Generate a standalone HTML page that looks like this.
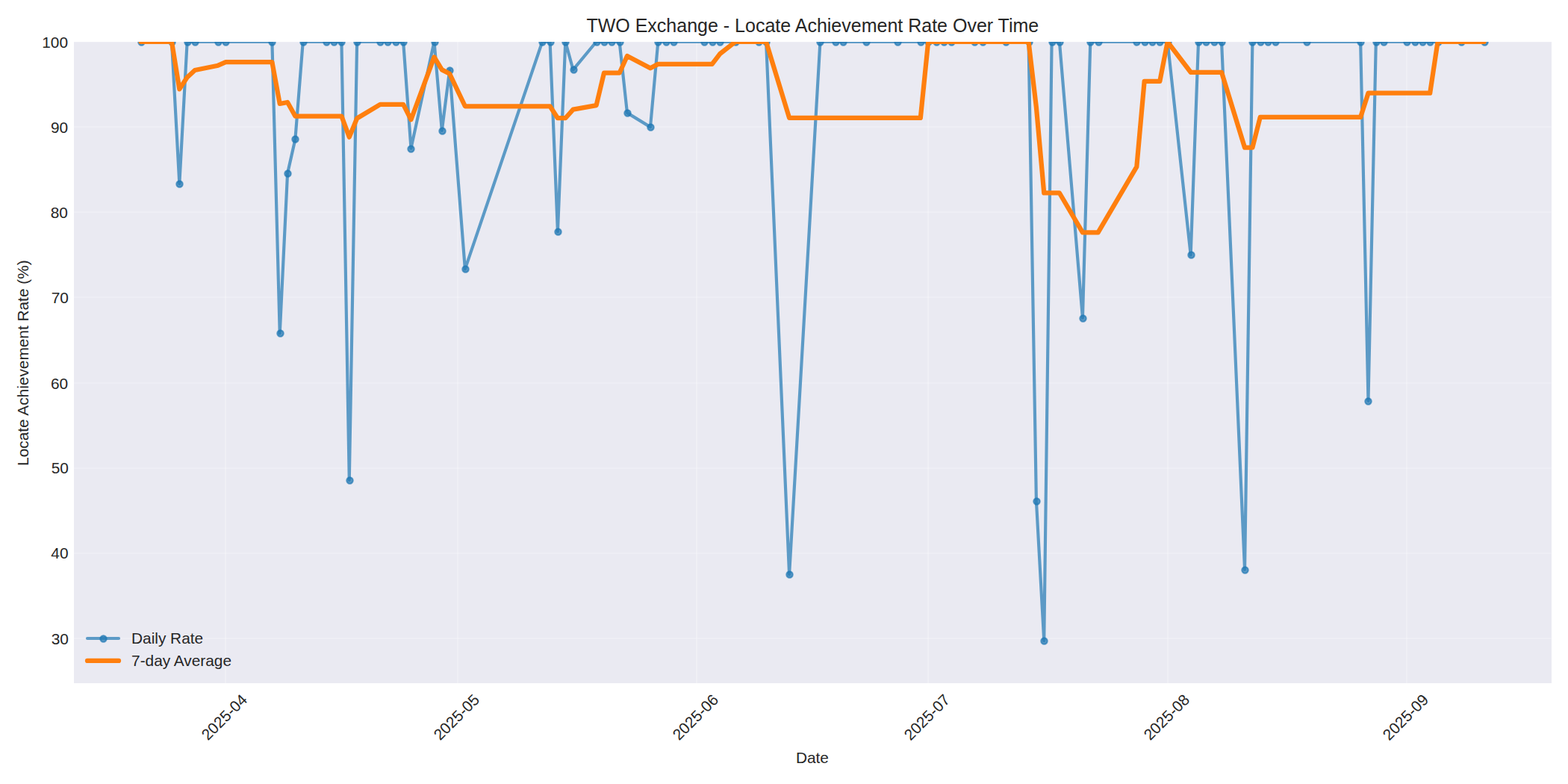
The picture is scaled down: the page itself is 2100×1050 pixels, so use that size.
<!DOCTYPE html>
<html lang="en">
<head>
<meta charset="utf-8">
<title>TWO Exchange - Locate Achievement Rate Over Time</title>
<style>
html,body{margin:0;padding:0;background:#ffffff;}
body{width:2100px;height:1050px;overflow:hidden;font-family:"Liberation Sans",sans-serif;}
#chart{display:block;position:absolute;left:0;top:0;}
.sr-only{position:absolute;left:0;top:0;width:1px;height:1px;margin:-1px;padding:0;overflow:hidden;clip:rect(0 0 0 0);clip-path:inset(50%);white-space:nowrap;border:0;}
#chart text{font-family:"Liberation Sans",sans-serif;fill:#262626;}
</style>
</head>
<body>
<svg id="chart" width="2100" height="1050" viewBox="0 0 1008 504" role="img" aria-labelledby="chart-title chart-desc">
<title id="chart-title">TWO Exchange - Locate Achievement Rate Over Time</title>
<desc id="chart-desc">Line chart of Locate Achievement Rate (%) by Date from 2025-04 to 2025-09 with series Daily Rate and 7-day Average.</desc>
<defs>
<style type="text/css">*{stroke-linejoin: round; stroke-linecap: butt}</style>
</defs>
<g id="figure_1">
<g id="patch_1">
<path d="M 0 504 L 1008 504 L 1008 0 L 0 0 z
" style="fill: #ffffff"/>
</g>
<g id="axes_1">
<g id="patch_2">
<path d="M 47.52 439.2 L 997.44 439.2 L 997.44 26.88 L 47.52 26.88 z" style="fill: #eaeaf2"/>
</g>
<g id="matplotlib.axis_1">
<g id="xtick_1">
<g id="line2d_1">
<path d="M 144.96000 439.2 L 144.96000 26.88 " clip-path="url(#p65f000b182)" style="fill: none; stroke: #ffffff; stroke-opacity: 0.3; stroke-width: 0.8; stroke-linecap: round"/>
</g>
<g id="line2d_2"/>
<g id="text_1">
<!-- 2025-04 -->
<text x="20.89" y="0" font-size="10" text-anchor="middle" transform="translate(131.85426 478.24412) rotate(-45)">2025-04</text>
</g>
</g>
<g id="xtick_2">
<g id="line2d_3">
<path d="M 294.24000 439.2 L 294.24000 26.88 " clip-path="url(#p65f000b182)" style="fill: none; stroke: #ffffff; stroke-opacity: 0.3; stroke-width: 0.8; stroke-linecap: round"/>
</g>
<g id="line2d_4"/>
<g id="text_2">
<!-- 2025-05 -->
<text x="20.89" y="0" font-size="10" text-anchor="middle" transform="translate(281.12259 478.23692) rotate(-45)">2025-05</text>
</g>
</g>
<g id="xtick_3">
<g id="line2d_5">
<path d="M 447.84000 439.2 L 447.84000 26.88 " clip-path="url(#p65f000b182)" style="fill: none; stroke: #ffffff; stroke-opacity: 0.3; stroke-width: 0.8; stroke-linecap: round"/>
</g>
<g id="line2d_6"/>
<g id="text_3">
<!-- 2025-06 -->
<text x="20.89" y="0" font-size="10" text-anchor="middle" transform="translate(434.72515 478.24892) rotate(-45)">2025-06</text>
</g>
</g>
<g id="xtick_4">
<g id="line2d_7">
<path d="M 596.64000 439.2 L 596.64000 26.88 " clip-path="url(#p65f000b182)" style="fill: none; stroke: #ffffff; stroke-opacity: 0.3; stroke-width: 0.8; stroke-linecap: round"/>
</g>
<g id="line2d_8"/>
<g id="text_4">
<!-- 2025-07 -->
<text x="20.89" y="0" font-size="10" text-anchor="middle" transform="translate(583.55621 478.26284) rotate(-45)">2025-07</text>
</g>
</g>
<g id="xtick_5">
<g id="line2d_9">
<path d="M 750.72000 439.2 L 750.72000 26.88 " clip-path="url(#p65f000b182)" style="fill: none; stroke: #ffffff; stroke-opacity: 0.3; stroke-width: 0.8; stroke-linecap: round"/>
</g>
<g id="line2d_10"/>
<g id="text_5">
<!-- 2025-08 -->
<text x="20.89" y="0" font-size="10" text-anchor="middle" transform="translate(737.61476 478.25084) rotate(-45)">2025-08</text>
</g>
</g>
<g id="xtick_6">
<g id="line2d_11">
<path d="M 904.32000 439.2 L 904.32000 26.88 " clip-path="url(#p65f000b182)" style="fill: none; stroke: #ffffff; stroke-opacity: 0.3; stroke-width: 0.8; stroke-linecap: round"/>
</g>
<g id="line2d_12"/>
<g id="text_6">
<!-- 2025-09 -->
<text x="20.89" y="0" font-size="10" text-anchor="middle" transform="translate(891.21875 478.26092) rotate(-45)">2025-09</text>
</g>
</g>
<g id="text_7">
<!-- Date -->
<text x="522.18" y="490.42" font-size="10" text-anchor="middle">Date</text>
</g>
</g>
<g id="matplotlib.axis_2">
<g id="ytick_1">
<g id="line2d_13">
<path d="M 47.52 410.40000 L 997.44 410.40000 " clip-path="url(#p65f000b182)" style="fill: none; stroke: #ffffff; stroke-opacity: 0.3; stroke-width: 0.8; stroke-linecap: round"/>
</g>
<g id="line2d_14"/>
<g id="text_8">
<!-- 30 -->
<text x="44.10" y="414.01" font-size="10" text-anchor="end">30</text>
</g>
</g>
<g id="ytick_2">
<g id="line2d_15">
<path d="M 47.52 355.68000 L 997.44 355.68000 " clip-path="url(#p65f000b182)" style="fill: none; stroke: #ffffff; stroke-opacity: 0.3; stroke-width: 0.8; stroke-linecap: round"/>
</g>
<g id="line2d_16"/>
<g id="text_9">
<!-- 40 -->
<text x="43.93" y="359.27" font-size="10" text-anchor="end">40</text>
</g>
</g>
<g id="ytick_3">
<g id="line2d_17">
<path d="M 47.52 300.96000 L 997.44 300.96000 " clip-path="url(#p65f000b182)" style="fill: none; stroke: #ffffff; stroke-opacity: 0.3; stroke-width: 0.8; stroke-linecap: round"/>
</g>
<g id="line2d_18"/>
<g id="text_10">
<!-- 50 -->
<text x="44.10" y="304.54" font-size="10" text-anchor="end">50</text>
</g>
</g>
<g id="ytick_4">
<g id="line2d_19">
<path d="M 47.52 246.24000 L 997.44 246.24000 " clip-path="url(#p65f000b182)" style="fill: none; stroke: #ffffff; stroke-opacity: 0.3; stroke-width: 0.8; stroke-linecap: round"/>
</g>
<g id="line2d_20"/>
<g id="text_11">
<!-- 60 -->
<text x="43.71" y="249.87" font-size="10" text-anchor="end">60</text>
</g>
</g>
<g id="ytick_5">
<g id="line2d_21">
<path d="M 47.52 191.04000 L 997.44 191.04000 " clip-path="url(#p65f000b182)" style="fill: none; stroke: #ffffff; stroke-opacity: 0.3; stroke-width: 0.8; stroke-linecap: round"/>
</g>
<g id="line2d_22"/>
<g id="text_12">
<!-- 70 -->
<text x="44.13" y="194.68" font-size="10" text-anchor="end">70</text>
</g>
</g>
<g id="ytick_6">
<g id="line2d_23">
<path d="M 47.52 136.32000 L 997.44 136.32000 " clip-path="url(#p65f000b182)" style="fill: none; stroke: #ffffff; stroke-opacity: 0.3; stroke-width: 0.8; stroke-linecap: round"/>
</g>
<g id="line2d_24"/>
<g id="text_13">
<!-- 80 -->
<text x="43.63" y="139.92" font-size="10" text-anchor="end">80</text>
</g>
</g>
<g id="ytick_7">
<g id="line2d_25">
<path d="M 47.52 81.60000 L 997.44 81.60000 " clip-path="url(#p65f000b182)" style="fill: none; stroke: #ffffff; stroke-opacity: 0.3; stroke-width: 0.8; stroke-linecap: round"/>
</g>
<g id="line2d_26"/>
<g id="text_14">
<!-- 90 -->
<text x="43.72" y="85.25" font-size="10" text-anchor="end">90</text>
</g>
</g>
<g id="ytick_8">
<g id="line2d_27">
<path d="M 47.52 26.88000 L 997.44 26.88000 " clip-path="url(#p65f000b182)" style="fill: none; stroke: #ffffff; stroke-opacity: 0.3; stroke-width: 0.8; stroke-linecap: round"/>
</g>
<g id="line2d_28"/>
<g id="text_15">
<!-- 100 -->
<text x="43.68" y="30.56" font-size="10" text-anchor="end">100</text>
</g>
</g>
<g id="text_16">
<!-- Locate Achievement Rate (%) -->
<text x="74.32" y="0" font-size="10" text-anchor="middle" transform="translate(18.11097 307.65216) rotate(-90)">Locate Achievement Rate (%)</text>
</g>
</g>
<g id="line2d_29">
<path d="M 90.544091 26.88 L 110.394248 26.88 L 115.356787 118.183837 L 120.319326 26.88 L 125.281865 26.88 L 140.169483 26.88 L 145.132022 26.88 L 174.907257 26.88 L 179.869796 214.286508 L 184.832335 111.516964 L 189.794875 89.494919 L 194.757414 26.88 L 209.645031 26.88 L 214.607571 26.88 L 219.57011 26.88 L 224.532649 308.619746 L 229.495188 26.88 L 244.382806 26.88 L 249.345345 26.88 L 254.307884 26.88 L 259.270423 26.88 L 264.232962 95.356508 L 279.12058 26.88 L 284.083119 83.934627 L 289.045658 45.138576 L 298.970737 172.965044 L 348.596129 26.88 L 353.558668 26.88 L 358.521207 148.932529 L 363.483746 26.88 L 368.446285 44.848236 L 383.333903 26.88 L 388.296442 26.88 L 393.258981 26.88 L 398.22152 26.88 L 403.18406 72.52918 L 418.071677 81.661207 L 423.034216 26.88 L 427.996755 26.88 L 432.959295 26.88 L 452.809451 26.88 L 457.771991 26.88 L 462.73453 26.88 L 472.659608 26.88 L 487.547226 26.88 L 492.509765 26.88 L 507.397382 369.262542 L 527.247539 26.88 L 537.172618 26.88 L 542.135157 26.88 L 557.022774 26.88 L 576.872931 26.88 L 591.760549 26.88 L 596.723088 26.88 L 601.685627 26.88 L 606.648166 26.88 L 611.610705 26.88 L 626.498323 26.88 L 631.460862 26.88 L 646.34848 26.88 L 661.236097 26.88 L 666.198636 322.150704 L 671.161176 411.937102 L 676.123715 26.88 L 681.086254 26.88 L 695.973871 204.37111 L 700.936411 26.88 L 705.89895 26.88 L 730.711646 26.88 L 735.674185 26.88 L 740.636724 26.88 L 745.599263 26.88 L 750.561803 26.88 L 765.44942 163.833017 L 770.411959 26.88 L 775.374498 26.88 L 780.337038 26.88 L 785.299577 26.88 L 800.187194 366.140013 L 805.149734 26.88 L 810.112273 26.88 L 815.074812 26.88 L 820.037351 26.88 L 839.887508 26.88 L 874.625282 26.88 L 879.587821 257.673224 L 884.550361 26.88 L 889.5129 26.88 L 904.400517 26.88 L 909.363056 26.88 L 914.325596 26.88 L 919.288135 26.88 L 924.250674 26.88 L 939.138292 26.88 L 954.025909 26.88 " clip-path="url(#p65f000b182)" style="fill: none; stroke: #1f77b4; stroke-opacity: 0.7; stroke-width: 2; stroke-linecap: round"/>
<defs>
<path id="md5e79b1b09" d="M 0 2 C 0.530406 2 1.03916 1.789267 1.414214 1.414214 C 1.789267 1.03916 2 0.530406 2 0 C 2 -0.530406 1.789267 -1.03916 1.414214 -1.414214 C 1.03916 -1.789267 0.530406 -2 0 -2 C -0.530406 -2 -1.03916 -1.789267 -1.414214 -1.414214 C -1.789267 -1.03916 -2 -0.530406 -2 0 C -2 0.530406 -1.789267 1.03916 -1.414214 1.414214 C -1.03916 1.789267 -0.530406 2 0 2 z
" style="stroke: #1f77b4; stroke-opacity: 0.7"/>
</defs>
<g clip-path="url(#p65f000b182)">
<use href="#md5e79b1b09" x="90.96000" y="27.12000" style="fill: #1f77b4; fill-opacity: 0.7; stroke: #1f77b4; stroke-opacity: 0.7"/>
<use href="#md5e79b1b09" x="110.64000" y="27.12000" style="fill: #1f77b4; fill-opacity: 0.7; stroke: #1f77b4; stroke-opacity: 0.7"/>
<use href="#md5e79b1b09" x="115.44000" y="118.32000" style="fill: #1f77b4; fill-opacity: 0.7; stroke: #1f77b4; stroke-opacity: 0.7"/>
<use href="#md5e79b1b09" x="120.72000" y="27.12000" style="fill: #1f77b4; fill-opacity: 0.7; stroke: #1f77b4; stroke-opacity: 0.7"/>
<use href="#md5e79b1b09" x="125.52000" y="27.12000" style="fill: #1f77b4; fill-opacity: 0.7; stroke: #1f77b4; stroke-opacity: 0.7"/>
<use href="#md5e79b1b09" x="140.40000" y="27.12000" style="fill: #1f77b4; fill-opacity: 0.7; stroke: #1f77b4; stroke-opacity: 0.7"/>
<use href="#md5e79b1b09" x="145.20000" y="27.12000" style="fill: #1f77b4; fill-opacity: 0.7; stroke: #1f77b4; stroke-opacity: 0.7"/>
<use href="#md5e79b1b09" x="174.96000" y="27.12000" style="fill: #1f77b4; fill-opacity: 0.7; stroke: #1f77b4; stroke-opacity: 0.7"/>
<use href="#md5e79b1b09" x="180.24000" y="214.32000" style="fill: #1f77b4; fill-opacity: 0.7; stroke: #1f77b4; stroke-opacity: 0.7"/>
<use href="#md5e79b1b09" x="185.04000" y="111.60000" style="fill: #1f77b4; fill-opacity: 0.7; stroke: #1f77b4; stroke-opacity: 0.7"/>
<use href="#md5e79b1b09" x="189.84000" y="89.52000" style="fill: #1f77b4; fill-opacity: 0.7; stroke: #1f77b4; stroke-opacity: 0.7"/>
<use href="#md5e79b1b09" x="195.12000" y="27.12000" style="fill: #1f77b4; fill-opacity: 0.7; stroke: #1f77b4; stroke-opacity: 0.7"/>
<use href="#md5e79b1b09" x="210.00000" y="27.12000" style="fill: #1f77b4; fill-opacity: 0.7; stroke: #1f77b4; stroke-opacity: 0.7"/>
<use href="#md5e79b1b09" x="214.80000" y="27.12000" style="fill: #1f77b4; fill-opacity: 0.7; stroke: #1f77b4; stroke-opacity: 0.7"/>
<use href="#md5e79b1b09" x="219.60000" y="27.12000" style="fill: #1f77b4; fill-opacity: 0.7; stroke: #1f77b4; stroke-opacity: 0.7"/>
<use href="#md5e79b1b09" x="224.88000" y="308.88000" style="fill: #1f77b4; fill-opacity: 0.7; stroke: #1f77b4; stroke-opacity: 0.7"/>
<use href="#md5e79b1b09" x="229.68000" y="27.12000" style="fill: #1f77b4; fill-opacity: 0.7; stroke: #1f77b4; stroke-opacity: 0.7"/>
<use href="#md5e79b1b09" x="244.56000" y="27.12000" style="fill: #1f77b4; fill-opacity: 0.7; stroke: #1f77b4; stroke-opacity: 0.7"/>
<use href="#md5e79b1b09" x="249.36000" y="27.12000" style="fill: #1f77b4; fill-opacity: 0.7; stroke: #1f77b4; stroke-opacity: 0.7"/>
<use href="#md5e79b1b09" x="254.64000" y="27.12000" style="fill: #1f77b4; fill-opacity: 0.7; stroke: #1f77b4; stroke-opacity: 0.7"/>
<use href="#md5e79b1b09" x="259.44000" y="27.12000" style="fill: #1f77b4; fill-opacity: 0.7; stroke: #1f77b4; stroke-opacity: 0.7"/>
<use href="#md5e79b1b09" x="264.24000" y="95.76000" style="fill: #1f77b4; fill-opacity: 0.7; stroke: #1f77b4; stroke-opacity: 0.7"/>
<use href="#md5e79b1b09" x="279.60000" y="27.12000" style="fill: #1f77b4; fill-opacity: 0.7; stroke: #1f77b4; stroke-opacity: 0.7"/>
<use href="#md5e79b1b09" x="284.40000" y="84.24000" style="fill: #1f77b4; fill-opacity: 0.7; stroke: #1f77b4; stroke-opacity: 0.7"/>
<use href="#md5e79b1b09" x="289.20000" y="45.36000" style="fill: #1f77b4; fill-opacity: 0.7; stroke: #1f77b4; stroke-opacity: 0.7"/>
<use href="#md5e79b1b09" x="299.28000" y="173.04000" style="fill: #1f77b4; fill-opacity: 0.7; stroke: #1f77b4; stroke-opacity: 0.7"/>
<use href="#md5e79b1b09" x="348.72000" y="27.12000" style="fill: #1f77b4; fill-opacity: 0.7; stroke: #1f77b4; stroke-opacity: 0.7"/>
<use href="#md5e79b1b09" x="354.00000" y="27.12000" style="fill: #1f77b4; fill-opacity: 0.7; stroke: #1f77b4; stroke-opacity: 0.7"/>
<use href="#md5e79b1b09" x="358.80000" y="149.04000" style="fill: #1f77b4; fill-opacity: 0.7; stroke: #1f77b4; stroke-opacity: 0.7"/>
<use href="#md5e79b1b09" x="363.60000" y="27.12000" style="fill: #1f77b4; fill-opacity: 0.7; stroke: #1f77b4; stroke-opacity: 0.7"/>
<use href="#md5e79b1b09" x="368.88000" y="44.88000" style="fill: #1f77b4; fill-opacity: 0.7; stroke: #1f77b4; stroke-opacity: 0.7"/>
<use href="#md5e79b1b09" x="383.76000" y="27.12000" style="fill: #1f77b4; fill-opacity: 0.7; stroke: #1f77b4; stroke-opacity: 0.7"/>
<use href="#md5e79b1b09" x="388.56000" y="27.12000" style="fill: #1f77b4; fill-opacity: 0.7; stroke: #1f77b4; stroke-opacity: 0.7"/>
<use href="#md5e79b1b09" x="393.36000" y="27.12000" style="fill: #1f77b4; fill-opacity: 0.7; stroke: #1f77b4; stroke-opacity: 0.7"/>
<use href="#md5e79b1b09" x="398.64000" y="27.12000" style="fill: #1f77b4; fill-opacity: 0.7; stroke: #1f77b4; stroke-opacity: 0.7"/>
<use href="#md5e79b1b09" x="403.44000" y="72.72000" style="fill: #1f77b4; fill-opacity: 0.7; stroke: #1f77b4; stroke-opacity: 0.7"/>
<use href="#md5e79b1b09" x="418.32000" y="81.84000" style="fill: #1f77b4; fill-opacity: 0.7; stroke: #1f77b4; stroke-opacity: 0.7"/>
<use href="#md5e79b1b09" x="423.12000" y="27.12000" style="fill: #1f77b4; fill-opacity: 0.7; stroke: #1f77b4; stroke-opacity: 0.7"/>
<use href="#md5e79b1b09" x="428.40000" y="27.12000" style="fill: #1f77b4; fill-opacity: 0.7; stroke: #1f77b4; stroke-opacity: 0.7"/>
<use href="#md5e79b1b09" x="433.20000" y="27.12000" style="fill: #1f77b4; fill-opacity: 0.7; stroke: #1f77b4; stroke-opacity: 0.7"/>
<use href="#md5e79b1b09" x="452.88000" y="27.12000" style="fill: #1f77b4; fill-opacity: 0.7; stroke: #1f77b4; stroke-opacity: 0.7"/>
<use href="#md5e79b1b09" x="458.16000" y="27.12000" style="fill: #1f77b4; fill-opacity: 0.7; stroke: #1f77b4; stroke-opacity: 0.7"/>
<use href="#md5e79b1b09" x="462.96000" y="27.12000" style="fill: #1f77b4; fill-opacity: 0.7; stroke: #1f77b4; stroke-opacity: 0.7"/>
<use href="#md5e79b1b09" x="473.04000" y="27.12000" style="fill: #1f77b4; fill-opacity: 0.7; stroke: #1f77b4; stroke-opacity: 0.7"/>
<use href="#md5e79b1b09" x="487.92000" y="27.12000" style="fill: #1f77b4; fill-opacity: 0.7; stroke: #1f77b4; stroke-opacity: 0.7"/>
<use href="#md5e79b1b09" x="492.72000" y="27.12000" style="fill: #1f77b4; fill-opacity: 0.7; stroke: #1f77b4; stroke-opacity: 0.7"/>
<use href="#md5e79b1b09" x="507.60000" y="369.36000" style="fill: #1f77b4; fill-opacity: 0.7; stroke: #1f77b4; stroke-opacity: 0.7"/>
<use href="#md5e79b1b09" x="527.28000" y="27.12000" style="fill: #1f77b4; fill-opacity: 0.7; stroke: #1f77b4; stroke-opacity: 0.7"/>
<use href="#md5e79b1b09" x="537.36000" y="27.12000" style="fill: #1f77b4; fill-opacity: 0.7; stroke: #1f77b4; stroke-opacity: 0.7"/>
<use href="#md5e79b1b09" x="542.16000" y="27.12000" style="fill: #1f77b4; fill-opacity: 0.7; stroke: #1f77b4; stroke-opacity: 0.7"/>
<use href="#md5e79b1b09" x="557.04000" y="27.12000" style="fill: #1f77b4; fill-opacity: 0.7; stroke: #1f77b4; stroke-opacity: 0.7"/>
<use href="#md5e79b1b09" x="577.20000" y="27.12000" style="fill: #1f77b4; fill-opacity: 0.7; stroke: #1f77b4; stroke-opacity: 0.7"/>
<use href="#md5e79b1b09" x="592.08000" y="27.12000" style="fill: #1f77b4; fill-opacity: 0.7; stroke: #1f77b4; stroke-opacity: 0.7"/>
<use href="#md5e79b1b09" x="596.88000" y="27.12000" style="fill: #1f77b4; fill-opacity: 0.7; stroke: #1f77b4; stroke-opacity: 0.7"/>
<use href="#md5e79b1b09" x="602.16000" y="27.12000" style="fill: #1f77b4; fill-opacity: 0.7; stroke: #1f77b4; stroke-opacity: 0.7"/>
<use href="#md5e79b1b09" x="606.96000" y="27.12000" style="fill: #1f77b4; fill-opacity: 0.7; stroke: #1f77b4; stroke-opacity: 0.7"/>
<use href="#md5e79b1b09" x="611.76000" y="27.12000" style="fill: #1f77b4; fill-opacity: 0.7; stroke: #1f77b4; stroke-opacity: 0.7"/>
<use href="#md5e79b1b09" x="626.64000" y="27.12000" style="fill: #1f77b4; fill-opacity: 0.7; stroke: #1f77b4; stroke-opacity: 0.7"/>
<use href="#md5e79b1b09" x="631.92000" y="27.12000" style="fill: #1f77b4; fill-opacity: 0.7; stroke: #1f77b4; stroke-opacity: 0.7"/>
<use href="#md5e79b1b09" x="646.80000" y="27.12000" style="fill: #1f77b4; fill-opacity: 0.7; stroke: #1f77b4; stroke-opacity: 0.7"/>
<use href="#md5e79b1b09" x="661.68000" y="27.12000" style="fill: #1f77b4; fill-opacity: 0.7; stroke: #1f77b4; stroke-opacity: 0.7"/>
<use href="#md5e79b1b09" x="666.48000" y="322.32000" style="fill: #1f77b4; fill-opacity: 0.7; stroke: #1f77b4; stroke-opacity: 0.7"/>
<use href="#md5e79b1b09" x="671.28000" y="412.08000" style="fill: #1f77b4; fill-opacity: 0.7; stroke: #1f77b4; stroke-opacity: 0.7"/>
<use href="#md5e79b1b09" x="676.56000" y="27.12000" style="fill: #1f77b4; fill-opacity: 0.7; stroke: #1f77b4; stroke-opacity: 0.7"/>
<use href="#md5e79b1b09" x="681.36000" y="27.12000" style="fill: #1f77b4; fill-opacity: 0.7; stroke: #1f77b4; stroke-opacity: 0.7"/>
<use href="#md5e79b1b09" x="696.24000" y="204.72000" style="fill: #1f77b4; fill-opacity: 0.7; stroke: #1f77b4; stroke-opacity: 0.7"/>
<use href="#md5e79b1b09" x="701.04000" y="27.12000" style="fill: #1f77b4; fill-opacity: 0.7; stroke: #1f77b4; stroke-opacity: 0.7"/>
<use href="#md5e79b1b09" x="706.32000" y="27.12000" style="fill: #1f77b4; fill-opacity: 0.7; stroke: #1f77b4; stroke-opacity: 0.7"/>
<use href="#md5e79b1b09" x="730.80000" y="27.12000" style="fill: #1f77b4; fill-opacity: 0.7; stroke: #1f77b4; stroke-opacity: 0.7"/>
<use href="#md5e79b1b09" x="736.08000" y="27.12000" style="fill: #1f77b4; fill-opacity: 0.7; stroke: #1f77b4; stroke-opacity: 0.7"/>
<use href="#md5e79b1b09" x="740.88000" y="27.12000" style="fill: #1f77b4; fill-opacity: 0.7; stroke: #1f77b4; stroke-opacity: 0.7"/>
<use href="#md5e79b1b09" x="745.68000" y="27.12000" style="fill: #1f77b4; fill-opacity: 0.7; stroke: #1f77b4; stroke-opacity: 0.7"/>
<use href="#md5e79b1b09" x="750.96000" y="27.12000" style="fill: #1f77b4; fill-opacity: 0.7; stroke: #1f77b4; stroke-opacity: 0.7"/>
<use href="#md5e79b1b09" x="765.84000" y="163.92000" style="fill: #1f77b4; fill-opacity: 0.7; stroke: #1f77b4; stroke-opacity: 0.7"/>
<use href="#md5e79b1b09" x="770.64000" y="27.12000" style="fill: #1f77b4; fill-opacity: 0.7; stroke: #1f77b4; stroke-opacity: 0.7"/>
<use href="#md5e79b1b09" x="775.44000" y="27.12000" style="fill: #1f77b4; fill-opacity: 0.7; stroke: #1f77b4; stroke-opacity: 0.7"/>
<use href="#md5e79b1b09" x="780.72000" y="27.12000" style="fill: #1f77b4; fill-opacity: 0.7; stroke: #1f77b4; stroke-opacity: 0.7"/>
<use href="#md5e79b1b09" x="785.52000" y="27.12000" style="fill: #1f77b4; fill-opacity: 0.7; stroke: #1f77b4; stroke-opacity: 0.7"/>
<use href="#md5e79b1b09" x="800.40000" y="366.48000" style="fill: #1f77b4; fill-opacity: 0.7; stroke: #1f77b4; stroke-opacity: 0.7"/>
<use href="#md5e79b1b09" x="805.20000" y="27.12000" style="fill: #1f77b4; fill-opacity: 0.7; stroke: #1f77b4; stroke-opacity: 0.7"/>
<use href="#md5e79b1b09" x="810.48000" y="27.12000" style="fill: #1f77b4; fill-opacity: 0.7; stroke: #1f77b4; stroke-opacity: 0.7"/>
<use href="#md5e79b1b09" x="815.28000" y="27.12000" style="fill: #1f77b4; fill-opacity: 0.7; stroke: #1f77b4; stroke-opacity: 0.7"/>
<use href="#md5e79b1b09" x="820.08000" y="27.12000" style="fill: #1f77b4; fill-opacity: 0.7; stroke: #1f77b4; stroke-opacity: 0.7"/>
<use href="#md5e79b1b09" x="840.24000" y="27.12000" style="fill: #1f77b4; fill-opacity: 0.7; stroke: #1f77b4; stroke-opacity: 0.7"/>
<use href="#md5e79b1b09" x="874.80000" y="27.12000" style="fill: #1f77b4; fill-opacity: 0.7; stroke: #1f77b4; stroke-opacity: 0.7"/>
<use href="#md5e79b1b09" x="879.60000" y="258.00000" style="fill: #1f77b4; fill-opacity: 0.7; stroke: #1f77b4; stroke-opacity: 0.7"/>
<use href="#md5e79b1b09" x="884.88000" y="27.12000" style="fill: #1f77b4; fill-opacity: 0.7; stroke: #1f77b4; stroke-opacity: 0.7"/>
<use href="#md5e79b1b09" x="889.68000" y="27.12000" style="fill: #1f77b4; fill-opacity: 0.7; stroke: #1f77b4; stroke-opacity: 0.7"/>
<use href="#md5e79b1b09" x="904.56000" y="27.12000" style="fill: #1f77b4; fill-opacity: 0.7; stroke: #1f77b4; stroke-opacity: 0.7"/>
<use href="#md5e79b1b09" x="909.84000" y="27.12000" style="fill: #1f77b4; fill-opacity: 0.7; stroke: #1f77b4; stroke-opacity: 0.7"/>
<use href="#md5e79b1b09" x="914.64000" y="27.12000" style="fill: #1f77b4; fill-opacity: 0.7; stroke: #1f77b4; stroke-opacity: 0.7"/>
<use href="#md5e79b1b09" x="919.44000" y="27.12000" style="fill: #1f77b4; fill-opacity: 0.7; stroke: #1f77b4; stroke-opacity: 0.7"/>
<use href="#md5e79b1b09" x="924.72000" y="27.12000" style="fill: #1f77b4; fill-opacity: 0.7; stroke: #1f77b4; stroke-opacity: 0.7"/>
<use href="#md5e79b1b09" x="939.60000" y="27.12000" style="fill: #1f77b4; fill-opacity: 0.7; stroke: #1f77b4; stroke-opacity: 0.7"/>
<use href="#md5e79b1b09" x="954.48000" y="27.12000" style="fill: #1f77b4; fill-opacity: 0.7; stroke: #1f77b4; stroke-opacity: 0.7"/>
</g>
</g>
<g id="line2d_30">
<path d="M 90.544091 26.88 L 110.394248 26.88 L 115.356787 57.314612 L 120.319326 49.705959 L 125.281865 45.140767 L 140.169483 42.097306 L 145.132022 39.923405 L 174.907257 39.923405 L 179.869796 66.695764 L 184.832335 65.743353 L 189.794875 74.688342 L 194.757414 74.688342 L 209.645031 74.688342 L 214.607571 74.688342 L 219.57011 74.688342 L 224.532649 88.164519 L 229.495188 76.073524 L 244.382806 67.128535 L 249.345345 67.128535 L 254.307884 67.128535 L 259.270423 67.128535 L 264.232962 76.910893 L 279.12058 36.662358 L 284.083119 44.813019 L 289.045658 47.421387 L 298.970737 68.290679 L 348.596129 68.290679 L 353.558668 68.290679 L 358.521207 75.944396 L 363.483746 75.944396 L 368.446285 70.360626 L 383.333903 67.752258 L 388.296442 46.882966 L 393.258981 46.882966 L 398.22152 46.882966 L 403.18406 35.968202 L 418.071677 43.794089 L 423.034216 41.227198 L 427.996755 41.227198 L 432.959295 41.227198 L 452.809451 41.227198 L 457.771991 41.227198 L 462.73453 34.705887 L 472.659608 26.88 L 487.547226 26.88 L 492.509765 26.88 L 507.397382 75.791792 L 527.247539 75.791792 L 537.172618 75.791792 L 542.135157 75.791792 L 557.022774 75.791792 L 576.872931 75.791792 L 591.760549 75.791792 L 596.723088 26.88 L 601.685627 26.88 L 606.648166 26.88 L 611.610705 26.88 L 626.498323 26.88 L 631.460862 26.88 L 646.34848 26.88 L 661.236097 26.88 L 666.198636 69.061529 L 671.161176 124.069687 L 676.123715 124.069687 L 681.086254 124.069687 L 695.973871 149.425559 L 700.936411 149.425559 L 705.89895 149.425559 L 730.711646 107.24403 L 735.674185 52.235873 L 740.636724 52.235873 L 745.599263 52.235873 L 750.561803 26.88 L 765.44942 46.444717 L 770.411959 46.444717 L 775.374498 46.444717 L 780.337038 46.444717 L 785.299577 46.444717 L 800.187194 94.910433 L 805.149734 94.910433 L 810.112273 75.345716 L 815.074812 75.345716 L 820.037351 75.345716 L 839.887508 75.345716 L 874.625282 75.345716 L 879.587821 59.850461 L 884.550361 59.850461 L 889.5129 59.850461 L 904.400517 59.850461 L 909.363056 59.850461 L 914.325596 59.850461 L 919.288135 59.850461 L 924.250674 26.88 L 939.138292 26.88 L 954.025909 26.88 " clip-path="url(#p65f000b182)" style="fill: none; stroke: #ff7f0e; stroke-width: 3; stroke-linecap: round"/>
</g>
<g id="patch_3">
<path d="M 47.37 439.218143 L 47.37 26.88 " style="fill: none"/>
</g>
<g id="patch_4">
<path d="M 997.2 439.218143 L 997.2 26.88 " style="fill: none"/>
</g>
<g id="patch_5">
<path d="M 47.37 439.218143 L 997.2 439.218143 " style="fill: none"/>
</g>
<g id="patch_6">
<path d="M 47.37 26.88 L 997.2 26.88 " style="fill: none"/>
</g>
<g id="text_17">
<!-- TWO Exchange - Locate Achievement Rate Over Time -->
<text x="522.40" y="20.56" font-size="12" text-anchor="middle">TWO Exchange - Locate Achievement Rate Over Time</text>
</g>
<g id="legend_1">
<g id="line2d_31">
<path d="M 56.16 410.4 L 66.24 410.4 L 76.32 410.4 " style="fill: none; stroke: #1f77b4; stroke-opacity: 0.7; stroke-width: 2; stroke-linecap: round"/>
<g>
<use href="#md5e79b1b09" x="66.48" y="410.64" style="fill: #1f77b4; fill-opacity: 0.7; stroke: #1f77b4; stroke-opacity: 0.7"/>
</g>
</g>
<g id="text_18">
<!-- Daily Rate -->
<text x="84.49" y="413.59" font-size="10">Daily Rate</text>
</g>
<g id="line2d_32">
<path d="M 56.16 424.8 L 66.24 424.8 L 76.32 424.8 " style="fill: none; stroke: #ff7f0e; stroke-width: 3; stroke-linecap: round"/>
</g>
<g id="text_19">
<!-- 7-day Average -->
<text x="84.53" y="428.02" font-size="10">7-day Average</text>
</g>
</g>
</g>
</g>
<defs>
<clipPath id="p65f000b182">
<rect x="47.37" y="26.88" width="949.83" height="412.338143"/>
</clipPath>
</defs>
</svg>

<div class="sr-only">
<h1>TWO Exchange - Locate Achievement Rate Over Time</h1>
<p>Y axis: Locate Achievement Rate (%) &mdash; ticks 30, 40, 50, 60, 70, 80, 90, 100</p>
<p>X axis: Date &mdash; ticks 2025-04, 2025-05, 2025-06, 2025-07, 2025-08, 2025-09</p>
<ul><li>Daily Rate</li><li>7-day Average</li></ul>
</div>
</body>
</html>
